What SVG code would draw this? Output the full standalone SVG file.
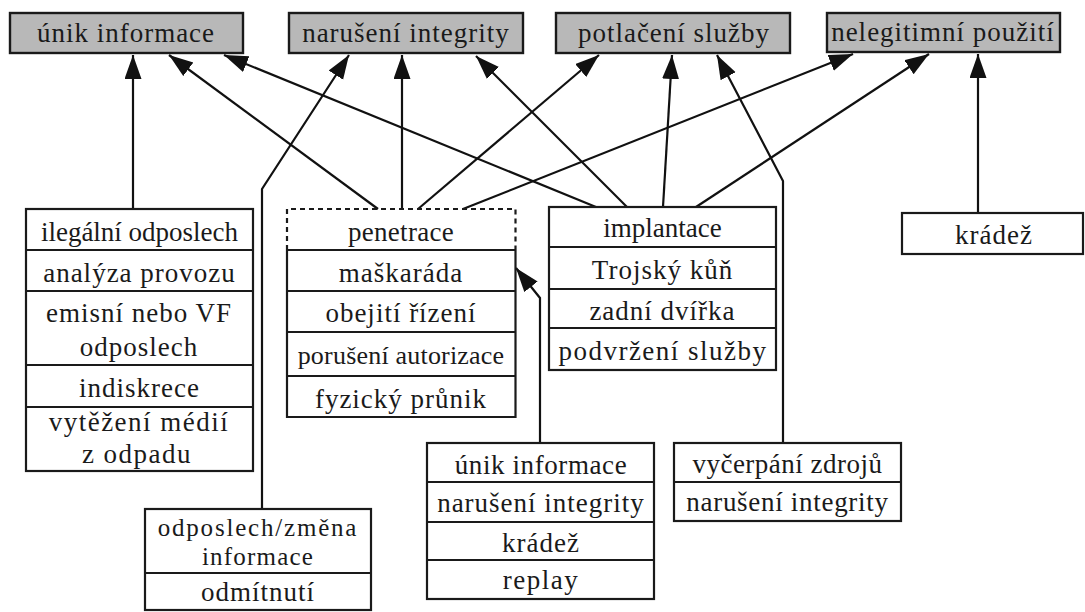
<svg xmlns="http://www.w3.org/2000/svg" width="1085" height="612" viewBox="0 0 1085 612">
<defs>
<marker id="ah" markerUnits="userSpaceOnUse" markerWidth="26" markerHeight="18" refX="24" refY="8.5" orient="auto">
<path d="M0,0 L24,8.5 L0,17 z" fill="#111"/>
</marker>
</defs>
<rect width="1085" height="612" fill="#fff"/>

<g id="connectors" stroke="#111" stroke-width="2.2" fill="none" marker-end="url(#ah)">
<path d="M133,209 L133,55"/>
<path d="M378,209 L169,55"/>
<path d="M596,207 L224,55"/>
<path d="M262,509 L262,189 L349,55"/>
<path d="M402,209 L402,55"/>
<path d="M627,207 L476,56"/>
<path d="M418,209 L599,55"/>
<path d="M663,207 L672,55"/>
<path d="M783,443 L783,181 L717,55"/>
<path d="M463,209 L853,54"/>
<path d="M696,207 L929,54"/>
<path d="M978,213 L978,54"/>
<path d="M540,443 L540,298 L516,268"/>
</g>

<g id="unik-informace">
<rect x="10" y="13" width="233" height="40" fill="#b8b8b8" stroke="#1a1a1a" stroke-width="2.4"/>
<text x="126" y="42" font-family="Liberation Serif" font-size="27" letter-spacing="1" text-anchor="middle" fill="#1a1a1a">únik informace</text>
</g>
<g id="naruseni-integrity">
<rect x="289" y="13" width="234" height="40" fill="#b8b8b8" stroke="#1a1a1a" stroke-width="2.4"/>
<text x="406" y="42" font-family="Liberation Serif" font-size="27" letter-spacing="1" text-anchor="middle" fill="#1a1a1a">narušení integrity</text>
</g>
<g id="potlaceni-sluzby">
<rect x="556" y="13" width="234" height="40" fill="#b8b8b8" stroke="#1a1a1a" stroke-width="2.4"/>
<text x="674" y="42" font-family="Liberation Serif" font-size="27" letter-spacing="1" text-anchor="middle" fill="#1a1a1a">potlačení služby</text>
</g>
<g id="nelegitimni-pouziti">
<rect x="827" y="13" width="233" height="39" fill="#b8b8b8" stroke="#1a1a1a" stroke-width="2.4"/>
<text x="943" y="41" font-family="Liberation Serif" font-size="27" letter-spacing="1" text-anchor="middle" fill="#1a1a1a">nelegitimní použití</text>
</g>

<g id="odposlech-group">
<rect x="26" y="209" width="227" height="262" fill="#fff" stroke="#1a1a1a" stroke-width="2.2"/>
<path d="M26,250 H253 M26,291 H253 M26,365 H253 M26,407 H253" stroke="#1a1a1a" stroke-width="2.2" fill="none"/>
<text x="139.5" y="241" font-family="Liberation Serif" font-size="27" letter-spacing="0" text-anchor="middle" fill="#1a1a1a">ilegální odposlech</text>
<text x="139.5" y="282" font-family="Liberation Serif" font-size="27" letter-spacing="1" text-anchor="middle" fill="#1a1a1a">analýza provozu</text>
<text x="139" y="322" font-family="Liberation Serif" font-size="27" letter-spacing="1" text-anchor="middle" fill="#1a1a1a">emisní nebo VF</text>
<text x="139" y="356" font-family="Liberation Serif" font-size="27" letter-spacing="1" text-anchor="middle" fill="#1a1a1a">odposlech</text>
<text x="139.5" y="397" font-family="Liberation Serif" font-size="27" letter-spacing="1" text-anchor="middle" fill="#1a1a1a">indiskrece</text>
<text x="139" y="431" font-family="Liberation Serif" font-size="27" letter-spacing="1.5" text-anchor="middle" fill="#1a1a1a">vytěžení médií</text>
<text x="137" y="463" font-family="Liberation Serif" font-size="27" letter-spacing="1.5" text-anchor="middle" fill="#1a1a1a">z odpadu</text>
</g>

<g id="penetrace">
<path d="M287,250 V209 H515.5 V250" stroke="#1a1a1a" stroke-width="2.2" fill="none" stroke-dasharray="5 4"/>
<path d="M287,250 V417 H515.5 V250 M287,250 H515.5 M287,291 H515.5 M287,332 H515.5 M287,376 H515.5" stroke="#1a1a1a" stroke-width="2.2" fill="none"/>
<text x="401" y="241" font-family="Liberation Serif" font-size="27" letter-spacing="0.3" text-anchor="middle" fill="#1a1a1a">penetrace</text>
<text x="401" y="282" font-family="Liberation Serif" font-size="27" letter-spacing="1" text-anchor="middle" fill="#1a1a1a">maškaráda</text>
<text x="401" y="322" font-family="Liberation Serif" font-size="27" letter-spacing="1" text-anchor="middle" fill="#1a1a1a">obejití řízení</text>
<text x="401" y="364" font-family="Liberation Serif" font-size="26" letter-spacing="0.2" text-anchor="middle" fill="#1a1a1a">porušení autorizace</text>
<text x="401" y="408" font-family="Liberation Serif" font-size="27" letter-spacing="1" text-anchor="middle" fill="#1a1a1a">fyzický průnik</text>
</g>

<g id="implantace">
<rect x="549" y="207" width="227" height="163" fill="#fff" stroke="#1a1a1a" stroke-width="2.2"/>
<path d="M549,247 H776 M549,289 H776 M549,328 H776" stroke="#1a1a1a" stroke-width="2.2" fill="none"/>
<text x="662.5" y="237" font-family="Liberation Serif" font-size="27" letter-spacing="0" text-anchor="middle" fill="#1a1a1a">implantace</text>
<text x="662.5" y="279" font-family="Liberation Serif" font-size="27" letter-spacing="1" text-anchor="middle" fill="#1a1a1a">Trojský kůň</text>
<text x="662.5" y="320" font-family="Liberation Serif" font-size="27" letter-spacing="1" text-anchor="middle" fill="#1a1a1a">zadní dvířka</text>
<text x="663" y="360" font-family="Liberation Serif" font-size="27" letter-spacing="1.5" text-anchor="middle" fill="#1a1a1a">podvržení služby</text>
</g>

<g id="kradez">
<rect x="902" y="213" width="181" height="41" fill="#fff" stroke="#1a1a1a" stroke-width="2.2"/>
<text x="994" y="244" font-family="Liberation Serif" font-size="27" letter-spacing="1" text-anchor="middle" fill="#1a1a1a">krádež</text>
</g>

<g id="odposlech-zmena">
<rect x="145" y="509" width="226" height="101" fill="#fff" stroke="#1a1a1a" stroke-width="2.2"/>
<path d="M145,573 H371" stroke="#1a1a1a" stroke-width="2.2" fill="none"/>
<text x="258" y="536" font-family="Liberation Serif" font-size="25" letter-spacing="1.8" text-anchor="middle" fill="#1a1a1a">odposlech/změna</text>
<text x="258" y="565" font-family="Liberation Serif" font-size="25" letter-spacing="1.2" text-anchor="middle" fill="#1a1a1a">informace</text>
<text x="258" y="601" font-family="Liberation Serif" font-size="27" letter-spacing="1" text-anchor="middle" fill="#1a1a1a">odmítnutí</text>
</g>

<g id="unik-group">
<rect x="427" y="443" width="227" height="156" fill="#fff" stroke="#1a1a1a" stroke-width="2.2"/>
<path d="M427,482 H654 M427,522 H654 M427,560 H654" stroke="#1a1a1a" stroke-width="2.2" fill="none"/>
<text x="541" y="474" font-family="Liberation Serif" font-size="27" letter-spacing="0.6" text-anchor="middle" fill="#1a1a1a">únik informace</text>
<text x="541" y="512" font-family="Liberation Serif" font-size="27" letter-spacing="1" text-anchor="middle" fill="#1a1a1a">narušení integrity</text>
<text x="541" y="552" font-family="Liberation Serif" font-size="27" letter-spacing="1" text-anchor="middle" fill="#1a1a1a">krádež</text>
<text x="541" y="589" font-family="Liberation Serif" font-size="27" letter-spacing="1.5" text-anchor="middle" fill="#1a1a1a">replay</text>
</g>

<g id="vycerpani">
<rect x="674" y="443" width="227" height="78" fill="#fff" stroke="#1a1a1a" stroke-width="2.2"/>
<path d="M674,482 H901" stroke="#1a1a1a" stroke-width="2.2" fill="none"/>
<text x="787.5" y="473" font-family="Liberation Serif" font-size="27" letter-spacing="0.5" text-anchor="middle" fill="#1a1a1a">vyčerpání zdrojů</text>
<text x="787.5" y="511" font-family="Liberation Serif" font-size="27" letter-spacing="0.7" text-anchor="middle" fill="#1a1a1a">narušení integrity</text>
</g>
</svg>
